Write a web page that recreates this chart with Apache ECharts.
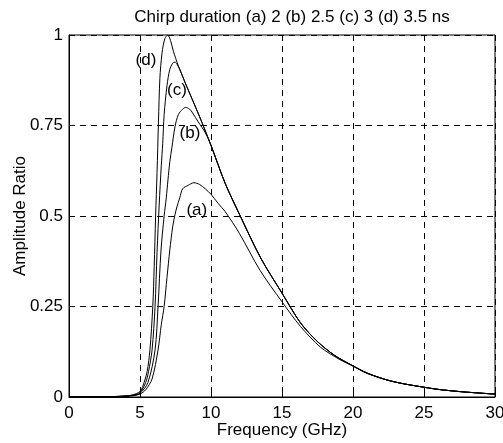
<!DOCTYPE html>
<html><head><meta charset="utf-8">
<script src="https://cdn.jsdelivr.net/npm/echarts@6/dist/echarts.min.js"></script>
<style>html,body{margin:0;padding:0;background:#fff}#c{width:503px;height:443px}</style>
</head><body><div id="c"></div>
<script>
var titleText = 'Chirp duration (a) 2 (b) 2.5 (c) 3 (d) 3.5 ns';
var xName = 'Frequency (GHz)';
var yName = 'Amplitude Ratio';
var xTicks = [0, 5, 10, 15, 20, 25, 30];
var yTicks = [0, 0.25, 0.5, 0.75, 1];

// shared decaying tail (b, c, d overlap here)
var tailFreq = [8.3, 9.2, 10, 11, 12, 13.5, 15, 16.3, 17.5, 18.7, 20, 21, 22.4, 23.5, 25, 26, 27.5, 28.5, 30];
var tailAmp  = [0.857, 0.774, 0.695, 0.59, 0.505, 0.384, 0.287, 0.205, 0.153, 0.115, 0.086, 0.066, 0.047, 0.037, 0.027, 0.021, 0.015, 0.012, 0.008];

// (d) 3.5 ns
var dFreq = [0, 2, 3, 4, 4.5, 5, 5.2, 5.5, 5.7, 5.9, 6.0, 6.1, 6.2, 6.3, 6.4, 6.55, 6.75, 6.95, 7.15, 7.35, 7.7];
var dAmp  = [0, 0.0005, 0.001, 0.003, 0.006, 0.015, 0.03, 0.07, 0.13, 0.25, 0.36, 0.5, 0.62, 0.76, 0.88, 0.95, 0.99, 1.0, 0.985, 0.955, 0.915];
// (c) 3 ns
var cFreq = [0, 2, 3, 4, 4.5, 5, 5.4, 5.6, 5.85, 6.06, 6.2, 6.35, 6.5, 6.6, 6.7, 6.9, 7.1, 7.3, 7.46, 7.6, 7.8];
var cAmp  = [0, 0.0005, 0.001, 0.003, 0.005, 0.012, 0.04, 0.07, 0.13, 0.25, 0.4, 0.53, 0.64, 0.70, 0.78, 0.86, 0.905, 0.922, 0.925, 0.92, 0.905];
// (b) 2.5 ns
var bFreq = [0, 2, 3, 4, 4.5, 5, 5.56, 6.06, 6.27, 6.48, 6.7, 6.85, 6.97, 7.1, 7.25, 7.46, 7.7, 8.0, 8.2, 8.5, 8.7, 9.1, 9.6];
var bAmp  = [0, 0.0005, 0.001, 0.002, 0.004, 0.01, 0.04, 0.13, 0.25, 0.406, 0.5, 0.55, 0.60, 0.65, 0.69, 0.746, 0.78, 0.795, 0.80, 0.795, 0.785, 0.76, 0.73];
// (a) 2 ns
var aFreq = [0, 2, 3, 4, 4.5, 5, 5.4, 5.85, 6.27, 6.5, 6.7, 6.9, 7.1, 7.3, 7.46, 7.6, 7.8, 8.0, 8.4, 8.8, 9.2, 9.6, 10, 10.5, 11, 12, 13.45, 15, 16.3, 17.7, 19, 20, 21, 22.4, 23.5, 25, 26, 27.5, 28.5, 30];
var aAmp  = [0, 0.0005, 0.001, 0.002, 0.004, 0.008, 0.02, 0.05, 0.13, 0.2, 0.25, 0.33, 0.406, 0.47, 0.503, 0.525, 0.55, 0.575, 0.585, 0.592, 0.587, 0.575, 0.56, 0.535, 0.512, 0.452, 0.35, 0.263, 0.195, 0.138, 0.105, 0.085, 0.065, 0.047, 0.037, 0.027, 0.021, 0.015, 0.012, 0.008];

var curveLabels = ['(a)', '(b)', '(c)', '(d)'];
var labelFreq = [9.0, 8.52, 7.6, 5.42];
var labelAmp  = [0.517, 0.729, 0.848, 0.931];

function pairs(fx, fy) { var o = []; for (var i = 0; i < fx.length; i++) o.push([fx[i], fy[i]]); return o; }
function withTail(fx, fy) {
  var o = pairs(fx, fy);
  var last = fx[fx.length - 1];
  for (var i = 0; i < tailFreq.length; i++) if (tailFreq[i] > last) o.push([tailFreq[i], tailAmp[i]]);
  return o;
}
var curves = [pairs(aFreq, aAmp), withTail(bFreq, bAmp), withTail(cFreq, cAmp), withTail(dFreq, dAmp)];

var font = 'Liberation Sans, Arial, Helvetica, sans-serif';
var FS = 17;
var series = curves.map(function (d, i) {
  return {
    type: 'line', data: d, showSymbol: false, smooth: 0.3, silent: true,
    lineStyle: { color: '#000', width: 1 },
    markPoint: {
      symbol: 'circle', symbolSize: 0, silent: true,
      label: { show: true, formatter: curveLabels[i], color: '#000', fontSize: FS, fontFamily: font },
      data: [{ coord: [labelFreq[i], labelAmp[i]] }]
    }
  };
});

var chart = echarts.init(document.getElementById('c'), null, { renderer: 'canvas' });
chart.setOption({
  animation: false,
  backgroundColor: '#fff',
  title: { text: titleText, left: 287, textAlign: 'center', top: 4,
    textStyle: { fontSize: FS, fontWeight: 'normal', color: '#000', fontFamily: font } },
  grid: { left: 69, right: 8, top: 35, bottom: 46, containLabel: false, outerBoundsMode: 'none',
    show: true, borderColor: '#000', borderWidth: 1, backgroundColor: 'transparent' },
  xAxis: {
    type: 'value', min: 0, max: 30, interval: 5,
    name: xName, nameLocation: 'middle', nameGap: 25, nameMoveOverlap: false,
    nameTextStyle: { fontSize: FS, color: '#000', fontFamily: font },
    axisLine: { lineStyle: { color: '#000', width: 1 } },
    axisTick: { show: true, inside: true, length: 4, lineStyle: { color: '#000' } },
    axisLabel: { color: '#000', fontSize: FS, margin: 8, fontFamily: font, formatter: function (v) { return xTicks.indexOf(v) >= 0 ? String(v) : ''; } },
    splitLine: { show: true, lineStyle: { color: '#000', type: [6, 5], width: 1 } }
  },
  yAxis: {
    type: 'value', min: 0, max: 1, interval: 0.25,
    name: yName, nameLocation: 'middle', nameGap: 40, nameMoveOverlap: false,
    nameTextStyle: { fontSize: FS, color: '#000', fontFamily: font },
    axisLine: { show: true, lineStyle: { color: '#000', width: 1 } },
    axisTick: { show: true, inside: true, length: 4, lineStyle: { color: '#000' } },
    axisLabel: { color: '#000', fontSize: FS, margin: 6, fontFamily: font, formatter: function (v) { return yTicks.indexOf(v) >= 0 ? String(v) : ''; } },
    splitLine: { show: true, lineStyle: { color: '#000', type: [6, 5], width: 1 } }
  },
  series: series
});
</script>
</body></html>
